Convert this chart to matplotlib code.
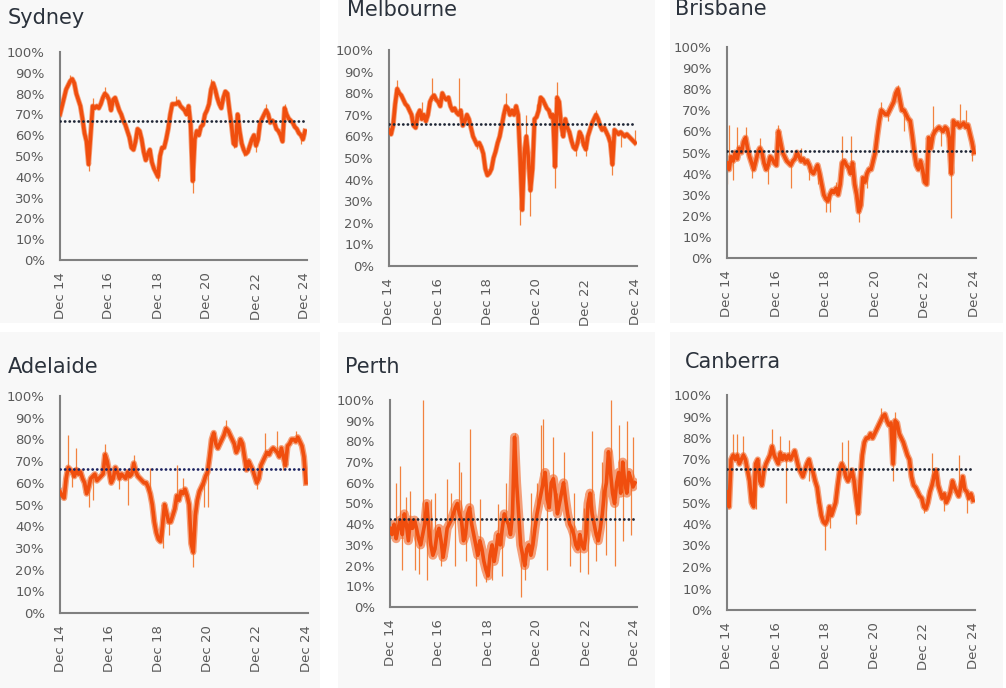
import numpy as np
import matplotlib
matplotlib.use('Agg')
import matplotlib.pyplot as plt
from matplotlib.patches import Rectangle

plt.rcParams['font.family'] = ['DejaVu Sans']

# x axis: months since Dec 2014
tick_months = [0, 24, 48, 72, 96, 120]
tick_labels = ['Dec 14', 'Dec 16', 'Dec 18', 'Dec 20', 'Dec 22', 'Dec 24']
y_ticks = [0, 10, 20, 30, 40, 50, 60, 70, 80, 90, 100]

# monthly values (%)
sydney = [70, 74, 78, 82, 84, 86, 87, 85, 80, 77,
          74, 68, 61, 57, 46, 60, 74, 73, 74, 73,
          75, 78, 80, 79, 77, 72, 77, 78, 75, 72,
          70, 67, 65, 62, 59, 54, 53, 57, 63, 62,
          58, 52, 48, 51, 53, 47, 44, 42, 40, 50,
          54, 54, 58, 63, 70, 75, 75, 75, 76, 74,
          73, 72, 70, 74, 65, 38, 58, 62, 60, 64,
          65, 70, 72, 75, 82, 85, 82, 78, 75, 73,
          78, 81, 80, 72, 65, 56, 55, 70, 62, 56,
          53, 51, 52, 55, 58, 60, 55, 58, 66, 68,
          70, 72, 70, 66, 67, 66, 63, 62, 60, 57,
          73, 70, 68, 67, 66, 64, 63, 61, 60, 58, 62]
sydney_avg = 67
sydney_spike_x = [5, 14, 16, 22, 45, 48, 57, 65, 74, 85, 90, 96, 101, 110, 118]
sydney_spike_y = [89, 43, 78, 83, 49, 38, 79, 32, 87, 54, 50, 52, 75, 75, 56]

melbourne = [63, 61, 65, 75, 82, 80, 79, 77, 75, 74,
             72, 70, 65, 64, 70, 72, 68, 70, 67, 70,
             76, 78, 79, 77, 76, 74, 80, 78, 77, 78,
             74, 72, 73, 71, 70, 72, 65, 67, 70, 68,
             64, 60, 58, 56, 57, 55, 52, 45, 42, 43,
             45, 50, 53, 57, 60, 65, 70, 74, 73, 70,
             72, 70, 74, 70, 50, 26, 52, 60, 50, 35,
             45, 68, 69, 72, 78, 77, 75, 73, 72, 69,
             70, 46, 78, 76, 65, 60, 68, 64, 62, 58,
             55, 54, 57, 62, 60, 56, 54, 60, 63, 66,
             68, 70, 68, 65, 63, 64, 62, 60, 57, 47,
             63, 62, 61, 62, 61, 60, 61, 60, 59, 58, 57]
melbourne_avg = 65.8
melbourne_spike_x = [4, 16, 21, 34, 43, 57, 64, 67, 69, 72, 81, 82, 91, 96, 101, 109, 113, 120]
melbourne_spike_y = [86, 76, 87, 87, 54, 80, 19, 70, 23, 75, 36, 85, 51, 51, 72, 42, 55, 63]

brisbane = [45, 42, 48, 46, 50, 47, 52, 50, 55, 57,
            52, 48, 45, 42, 46, 50, 52, 50, 45, 42,
            44, 48, 47, 45, 44, 60, 55, 50, 48, 46,
            45, 44, 46, 47, 50, 48, 46, 47, 45, 46,
            44, 41, 40, 42, 44, 40, 35, 30, 28, 27,
            30, 32, 31, 33, 30, 35, 45, 46, 44, 43,
            40, 45, 35, 30, 22, 25, 38, 36, 40, 42,
            42, 46, 50, 58, 65, 70, 69, 68, 68, 70,
            72, 74, 78, 80, 75, 70, 70, 68, 66, 65,
            58, 50, 44, 42, 46, 42, 36, 35, 57, 52,
            58, 60, 61, 62, 61, 60, 62, 61, 57, 40,
            65, 63, 64, 62, 63, 64, 62, 63, 59, 55, 50]
brisbane_avg = 50.9
brisbane_spike_x = [0, 1, 3, 5, 9, 12, 16, 20, 25, 31, 36, 40, 44, 48, 50, 53,
                    56, 60, 64, 68, 75, 78, 83, 86, 100, 104, 109, 113, 116, 119]
brisbane_spike_y = [35, 63, 37, 62, 62, 38, 57, 35, 63, 33, 52, 37, 35, 22, 22, 36,
                    58, 58, 17, 33, 74, 65, 82, 60, 72, 53, 19, 73, 70, 46]

adelaide = [56, 54, 53, 62, 67, 66, 65, 63, 66, 64,
            65, 62, 60, 55, 58, 62, 63, 64, 61, 62,
            63, 64, 73, 70, 65, 60, 62, 67, 65, 62,
            64, 63, 62, 65, 63, 64, 69, 65, 63, 62,
            61, 60, 60, 58, 55, 50, 42, 37, 34, 33,
            40, 50, 46, 42, 42, 45, 48, 54, 52, 56,
            55, 57, 54, 50, 32, 28, 45, 52, 56, 58,
            60, 63, 65, 72, 80, 83, 78, 76, 78, 80,
            82, 85, 84, 82, 80, 78, 74, 76, 80, 78,
            72, 66, 70, 68, 66, 63, 60, 62, 68, 70,
            72, 74, 73, 75, 76, 75, 74, 72, 76, 72,
            68, 77, 78, 80, 80, 79, 81, 79, 77, 72, 60]
adelaide_avg = 66.4
adelaide_spike_x = [4, 6, 8, 14, 16, 22, 29, 33, 36, 44, 46, 50, 53,
                    57, 60, 65, 70, 72, 81, 96, 100, 106, 109, 115]
adelaide_spike_y = [82, 58, 76, 49, 52, 78, 57, 50, 73, 67, 47, 30, 36,
                    68, 62, 21, 49, 49, 89, 57, 83, 84, 66, 84]

perth = [38, 35, 40, 33, 38, 42, 35, 45, 40, 32,
         42, 38, 42, 38, 33, 30, 35, 40, 50, 38,
         30, 25, 28, 35, 38, 32, 24, 30, 38, 40,
         42, 45, 48, 50, 45, 42, 32, 35, 45, 48,
         40, 35, 30, 25, 32, 28, 22, 18, 15, 25,
         30, 22, 28, 35, 30, 38, 45, 42, 40, 35,
         45, 82, 60, 45, 30, 25, 20, 28, 30, 25,
         30, 38, 45, 50, 55, 60, 65, 52, 48, 60,
         62, 55, 45, 50, 55, 60, 52, 45, 40, 38,
         35, 30, 28, 35, 30, 28, 35, 50, 55, 45,
         40, 35, 32, 38, 45, 55, 60, 75, 65, 55,
         50, 60, 65, 55, 70, 60, 55, 65, 62, 58, 60]
perth_avg = 42.7
perth_spike_x = [3, 5, 6, 8, 10, 12, 14, 16, 18, 20, 22, 25, 28, 30, 32, 34, 35, 37,
                 39, 42, 44, 47, 50, 53, 55, 57, 61, 64, 66, 69, 72, 74, 75, 77, 80,
                 82, 85, 88, 90, 93, 95, 97, 99, 101, 104, 106, 108, 110, 112, 114,
                 116, 118, 119]
perth_spike_y = [60, 68, 18, 53, 56, 18, 16, 100, 13, 52, 55, 20, 62, 55, 20, 70, 65, 22,
                 86, 10, 52, 12, 13, 50, 15, 60, 84, 5, 13, 55, 60, 88, 91, 18, 82,
                 55, 75, 20, 55, 17, 48, 16, 85, 22, 70, 25, 100, 20, 88, 32,
                 90, 35, 82]

canberra = [55, 48, 70, 72, 70, 72, 68, 70, 72, 70,
            65, 60, 50, 48, 68, 70, 60, 58, 65, 68,
            70, 72, 76, 72, 70, 68, 73, 70, 72, 70,
            72, 70, 72, 74, 70, 66, 64, 62, 65, 68,
            70, 66, 64, 60, 57, 50, 44, 41, 40, 42,
            48, 44, 47, 50, 58, 65, 68, 66, 62, 60,
            62, 65, 60, 52, 45, 60, 72, 78, 80, 80,
            82, 80, 82, 84, 86, 88, 90, 91, 88, 86,
            87, 68, 88, 87, 82, 80, 78, 75, 72, 70,
            62, 58, 57, 55, 53, 52, 48, 47, 50, 55,
            58, 62, 65, 58, 55, 52, 54, 50, 52, 55,
            60, 57, 55, 53, 57, 62, 56, 55, 52, 54, 51]
canberra_avg = 65.6
canberra_spike_x = [3, 5, 8, 14, 22, 26, 29, 30, 40, 44, 48, 50, 56,
                    59, 63, 75, 81, 82, 96, 100, 106, 113, 117]
canberra_spike_y = [82, 82, 81, 47, 84, 81, 50, 79, 60, 50, 28, 38, 78,
                    79, 40, 94, 60, 92, 45, 73, 46, 72, 45]

W, H = 1006, 688
fig = plt.figure(figsize=(W / 100, H / 100), dpi=100)
fig.patch.set_facecolor('white')

# light grey panel backgrounds (pixel boxes), drawn behind the axes
for (x0, y0, x1, y1) in [(0, 0, 320, 323), (338, 0, 655, 323), (670, 0, 1003, 323),
                         (0, 332, 320, 688), (338, 332, 655, 688), (670, 332, 1003, 688)]:
    fig.patches.append(Rectangle((x0 / W, 1 - y1 / H), (x1 - x0) / W, (y1 - y0) / H,
                                 transform=fig.transFigure, facecolor='#f8f8f8',
                                 edgecolor='none', zorder=-5))

# name, values, average, spikes, axes box (x at 0, y at 100%, x at 120, y at 0%),
# title pos, width of the noisy band, colour of the average line
panels = [
    ('Sydney', sydney, sydney_avg, sydney_spike_x, sydney_spike_y, (60, 52, 305, 260), (8, 18), 3.8, '#1f2636'),
    ('Melbourne', melbourne, melbourne_avg, melbourne_spike_x, melbourne_spike_y, (389, 50, 635, 266), (347, 10), 3.8, '#1f2636'),
    ('Brisbane', brisbane, brisbane_avg, brisbane_spike_x, brisbane_spike_y, (727, 47, 974, 258), (675, 9), 4.5, '#1f2636'),
    ('Adelaide', adelaide, adelaide_avg, adelaide_spike_x, adelaide_spike_y, (60, 396, 306, 613), (8, 367), 4.5, '#1b2260'),
    ('Perth', perth, perth_avg, perth_spike_x, perth_spike_y, (390, 400, 635, 607), (345, 367), 6.5, '#1f2636'),
    ('Canberra', canberra, canberra_avg, canberra_spike_x, canberra_spike_y, (727, 395, 973, 610), (685, 362), 4.5, '#1f2636'),
]

orange = '#f04e0e'
orange_light = '#f2823f'
text_grey = '#5a5a5a'

for name, vals, avg, sx, sy, (xl, yt, xr, yb), (tx, ty), band, avg_col in panels:
    width = (xr - xl) * 121 / 120
    ax = fig.add_axes([xl / W, 1 - yb / H, width / W, (yb - yt) / H])
    ax.set_facecolor('none')
    x = np.arange(len(vals))
    v = np.array(vals)
    ax.vlines(sx, v[sx], sy, color=orange_light, lw=0.9, zorder=2)
    ax.plot(x, v, color='#f26424', lw=band, alpha=0.6, zorder=2)
    ax.plot(x, v, color=orange, lw=2.6, solid_joinstyle='round', zorder=3)
    ax.plot([0, 120], [avg, avg], color=avg_col, lw=2.0, linestyle=(0, (0.05, 1.6)),
            dash_capstyle='round', zorder=4)
    ax.set_xlim(0, 121)
    ax.set_ylim(0, 100)
    ax.set_yticks(y_ticks)
    ax.set_yticklabels([f'{t}%' for t in y_ticks])
    ax.set_xticks(tick_months)
    ax.set_xticklabels(tick_labels, rotation=90)
    ax.tick_params(length=0, labelsize=9.5, colors=text_grey)
    ax.tick_params(axis='y', pad=11)
    ax.tick_params(axis='x', pad=9)
    for s in ['top', 'right']:
        ax.spines[s].set_visible(False)
    for s in ['left', 'bottom']:
        ax.spines[s].set_color('#808080')
        ax.spines[s].set_linewidth(1.5)
    fig.text(tx / W, 1 - ty / H, name, fontsize=15, color='#2b323c', ha='left', va='center')

fig.savefig('out.png', dpi=100, facecolor='white')
